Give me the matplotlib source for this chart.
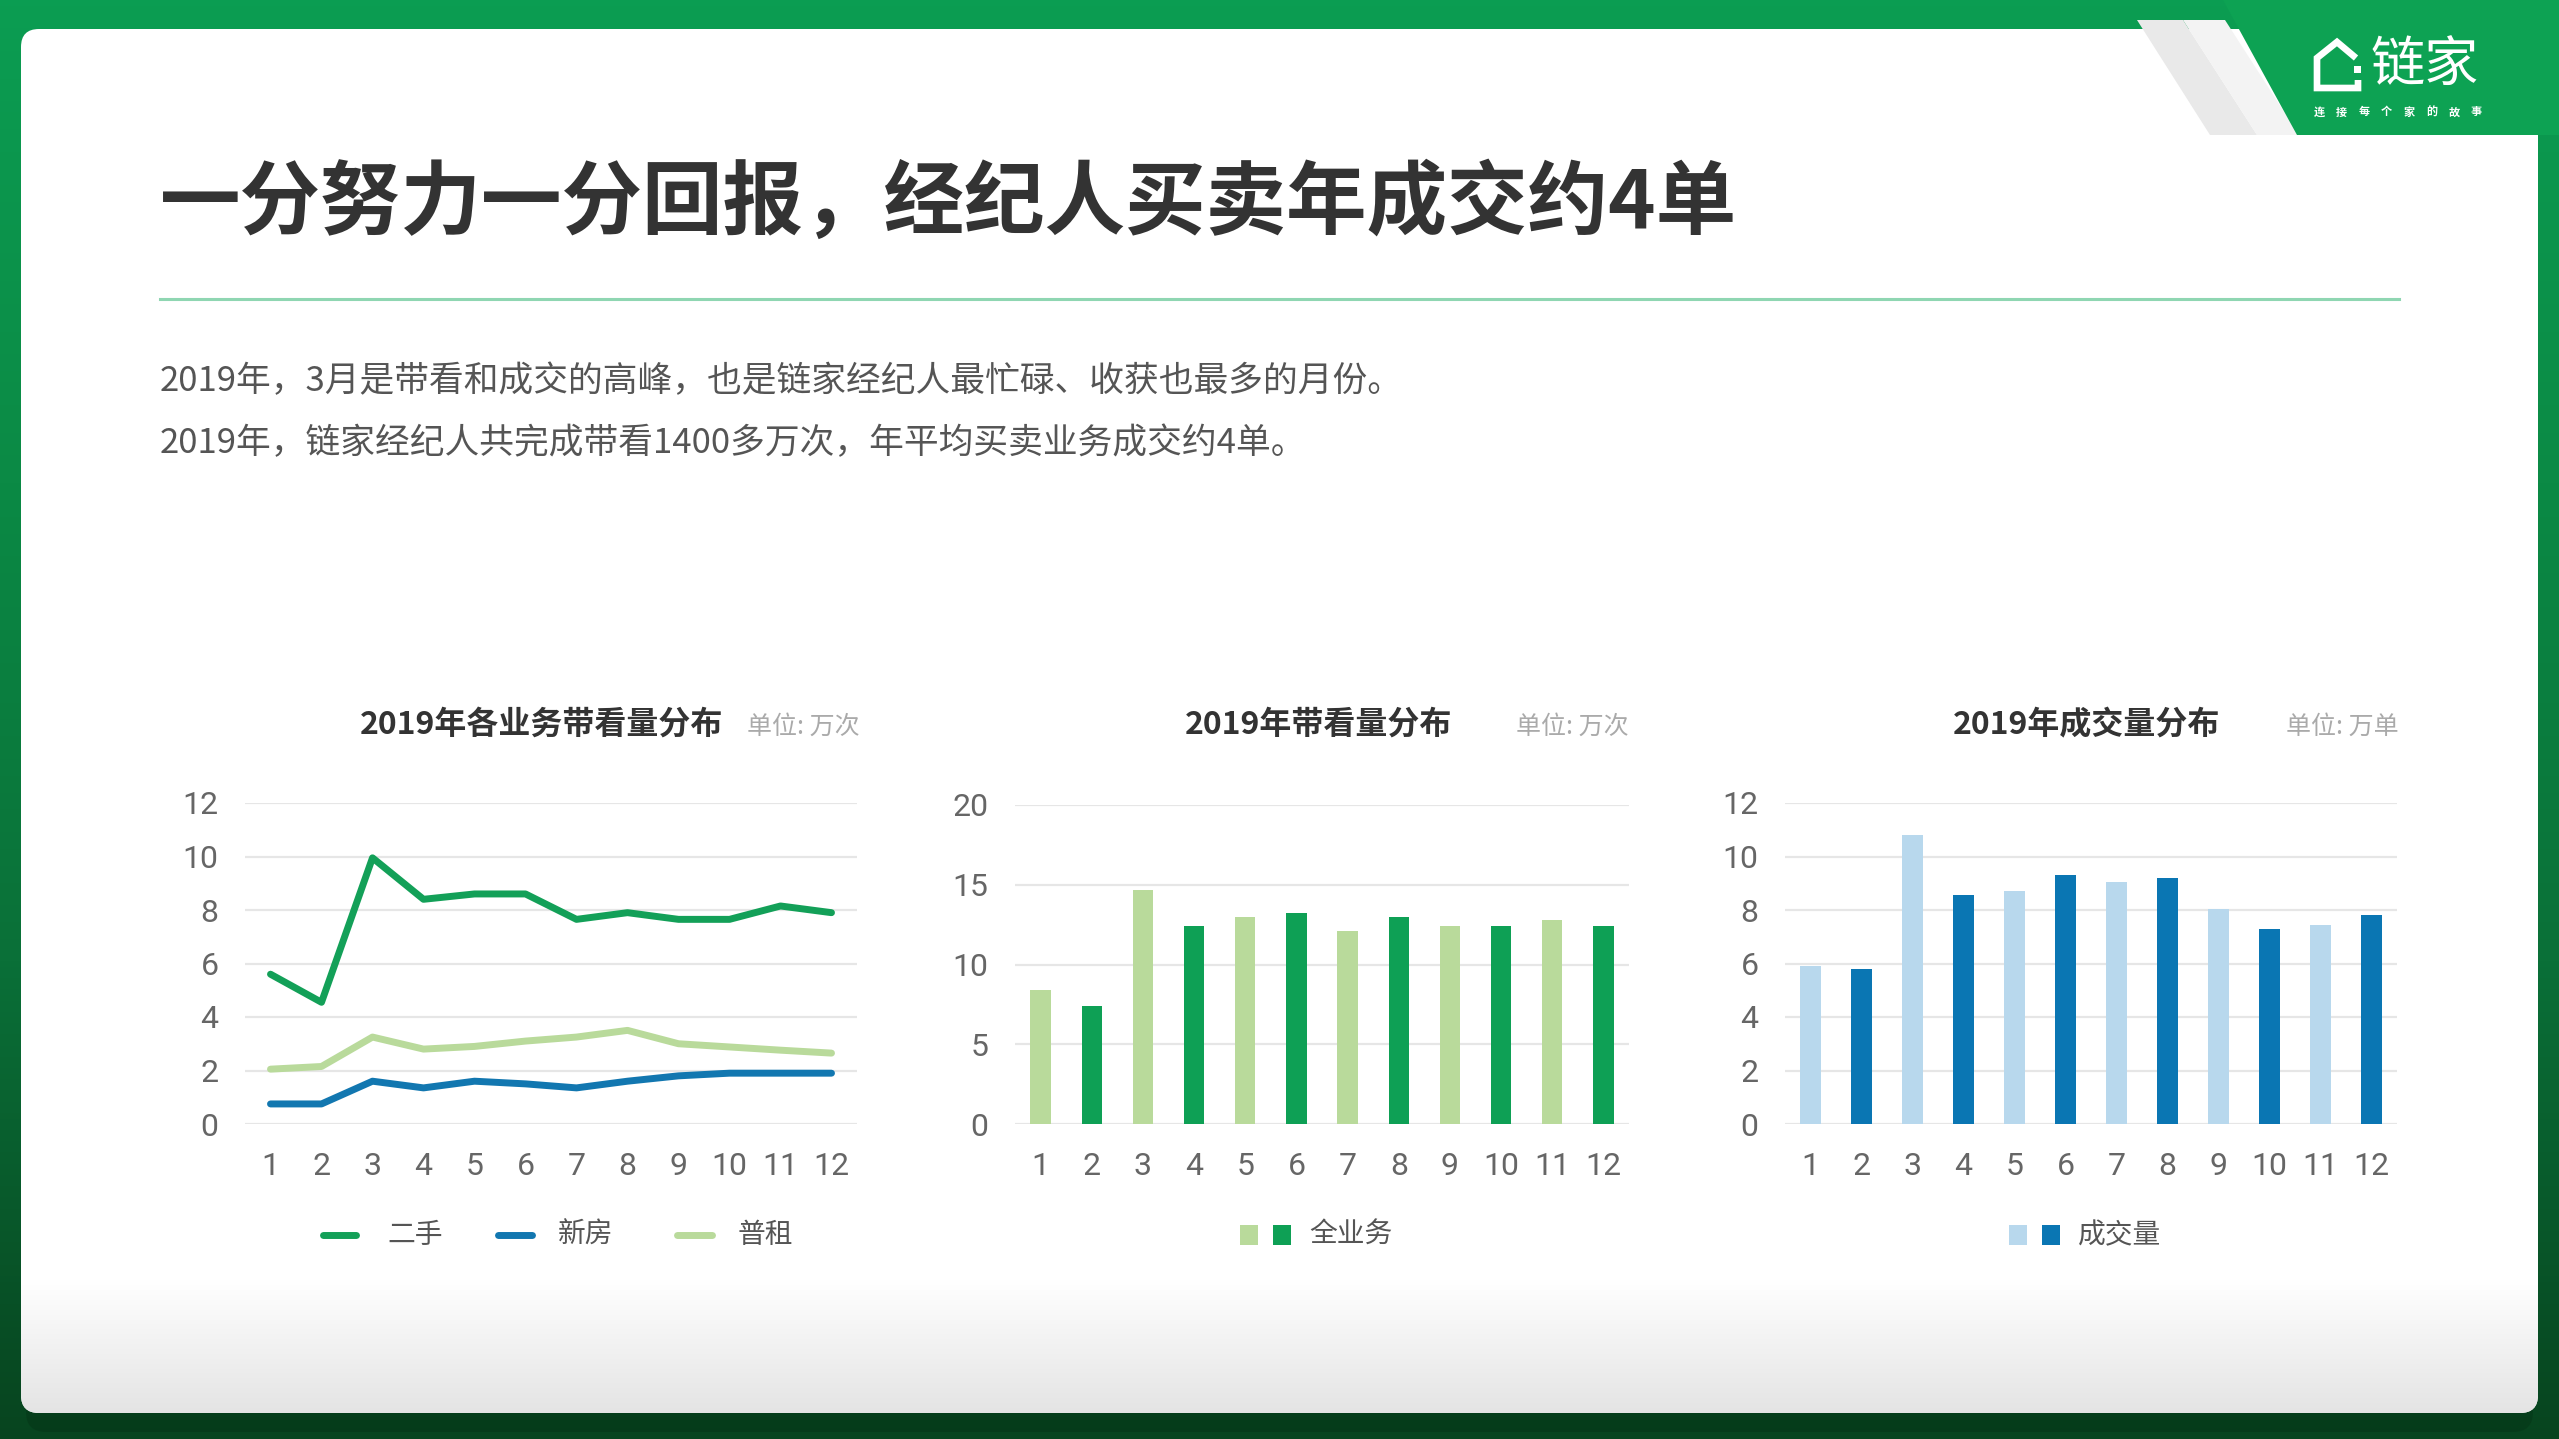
import numpy as np
import matplotlib
matplotlib.use('Agg')
import matplotlib.pyplot as plt
from matplotlib.patches import FancyBboxPatch, Polygon, Rectangle
from matplotlib.colors import LinearSegmentedColormap

plt.rcParams['font.family'] = ['Noto Sans CJK SC', 'DejaVu Sans']

# ---------------- data ----------------
months = list(range(1, 13))
month_labels = [str(m) for m in months]
ershou = [5.6, 4.55, 9.95, 8.4, 8.6, 8.6, 7.65, 7.9, 7.65, 7.65, 8.15, 7.9]
xinfang = [0.75, 0.75, 1.6, 1.35, 1.6, 1.5, 1.35, 1.6, 1.8, 1.9, 1.9, 1.9]
puzu = [2.05, 2.15, 3.25, 2.8, 2.9, 3.1, 3.25, 3.5, 3.0, 2.88, 2.76, 2.65]
daikan = [8.4, 7.4, 14.7, 12.4, 13.0, 13.2, 12.1, 13.0, 12.4, 12.4, 12.8, 12.4]
chengjiao = [5.9, 5.8, 10.8, 8.55, 8.7, 9.3, 9.05, 9.2, 8.05, 7.3, 7.45, 7.8]

line_names = ['二手', '新房', '普租']
yticks1 = [0, 2, 4, 6, 8, 10, 12]
yticks2 = [0, 5, 10, 15, 20]
yticks3 = [0, 2, 4, 6, 8, 10, 12]

title = '一分努力一分回报，经纪人买卖年成交约4单'
sub1 = '2019年，3月是带看和成交的高峰，也是链家经纪人最忙碌、收获也最多的月份。'
sub2 = '2019年，链家经纪人共完成带看1400多万次，年平均买卖业务成交约4单。'
chart_titles = ['2019年各业务带看量分布', '2019年带看量分布', '2019年成交量分布']
units = ['单位: 万次', '单位: 万次', '单位: 万单']
legend2 = '全业务'
legend3 = '成交量'

# colors
C_ERSHOU = '#13a058'
C_XINFANG = '#1277b0'
C_PUZU = '#b9da9b'
C_LG = '#b9da9b'
C_DG = '#0ea055'
C_LB = '#b8d8ed'
C_DB = '#0a76b3'
TICK_C = '#666666'

W, H = 2559, 1439
fig = plt.figure(figsize=(W / 100, H / 100), dpi=100)

bg = fig.add_axes([0, 0, 1, 1])
bg.set_xlim(0, W)
bg.set_ylim(H, 0)
bg.axis('off')

# green gradient background
gcmap = LinearSegmentedColormap.from_list('g', ['#0b9d52', '#0b8a45', '#0a7038', '#07441f'])
grad = np.linspace(0, 1, 256).reshape(-1, 1)
bg.imshow(grad, extent=[0, W, H, 0], aspect='auto', cmap=gcmap, zorder=0)

# shadow below card
shadow = FancyBboxPatch((26, 40), 2507, 1392, boxstyle='round,pad=0,rounding_size=20',
                        fc='#032d12', ec='none', alpha=0.35, zorder=1)
bg.add_patch(shadow)

# white card
card = FancyBboxPatch((21, 29), 2517, 1384, boxstyle='round,pad=0,rounding_size=18',
                      fc='white', ec='none', zorder=2)
bg.add_patch(card)
# bottom grey fade in card
fade = LinearSegmentedColormap.from_list('f', ['#ffffff', '#e4e4e4'])
im = bg.imshow(np.linspace(0, 1, 256).reshape(-1, 1), extent=[21, 2538, 1413, 1280],
               aspect='auto', cmap=fade, zorder=3, origin='upper')
im.set_clip_path(card)

# top-right green tab with fold stripes
bg.add_patch(Polygon([(2137, 20), (2183, 20), (2257, 135), (2210, 135)], closed=True,
                     fc='#e9e9e9', ec='none', zorder=4))
bg.add_patch(Polygon([(2183, 20), (2225, 20), (2299, 135), (2257, 135)], closed=True,
                     fc='#f3f3f3', ec='none', zorder=4))
bg.add_patch(Polygon([(2223, 0), (W, 0), (W, 135), (2297, 135)], closed=True,
                     fc='#0da253', ec='none', zorder=4))
bg.add_patch(FancyBboxPatch((2250, 135), 288, 60, boxstyle='round,pad=0,rounding_size=18',
                            fc='white', ec='none', zorder=4))

# logo
bg.plot([2356, 2337, 2317, 2317, 2358, 2358], [58, 42, 58, 88, 88, 80], color='white',
        lw=4.8, solid_joinstyle='miter', solid_capstyle='butt', zorder=5)
bg.add_patch(Rectangle((2354, 66), 7, 7, fc='white', ec='none', zorder=5))
bg.text(2371, 66, '链家', fontsize=39, color='white', va='center', ha='left', zorder=5)
slogan = '连接每个家的故事'
for i, ch in enumerate(slogan):
    bg.text(2319 + i * 22.5, 112, ch, fontsize=8, color='white', weight='bold',
            va='center', ha='center', zorder=5)

# title and text
bg.text(160, 204, title, fontsize=58, weight='heavy', color='#333333', va='center',
        ha='left', zorder=5)
bg.plot([160, 2399], [299, 299], color='#8fd6b2', lw=2.2, zorder=5)
bg.text(160, 382, sub1, fontsize=25, weight='medium', color='#555555', va='center', ha='left', zorder=5)
bg.text(160, 444, sub2, fontsize=25, weight='medium', color='#555555', va='center', ha='left', zorder=5)


def make_ax(x0, x1, ytop, ybot):
    ax = fig.add_axes([x0 / W, 1 - ybot / H, (x1 - x0) / W, (ybot - ytop) / H])
    ax.set_facecolor('none')
    for s in ax.spines.values():
        s.set_visible(False)
    ax.set_xlim(0.5, 12.5)
    ax.set_xticks(months, labels=month_labels)
    ax.tick_params(axis='both', length=0, labelsize=23, labelcolor=TICK_C)
    ax.tick_params(axis='x', pad=20)
    ax.tick_params(axis='y', pad=19)
    ax.grid(axis='y', color='#e6e6e6', lw=1.6, zorder=0)
    ax.set_axisbelow(True)
    return ax


# chart 1: lines
ax1 = make_ax(245, 857, 803, 1124)
ax1.set_ylim(0, 12)
ax1.set_yticks(yticks1)
for vals, c in zip([ershou, xinfang, puzu], [C_ERSHOU, C_XINFANG, C_PUZU]):
    ax1.plot(months, vals, color=c, lw=5, solid_joinstyle='round', solid_capstyle='round', zorder=3)

# chart 2: bars
ax2 = make_ax(1015, 1629, 805, 1124)
ax2.set_ylim(0, 20)
ax2.set_yticks(yticks2)
ax2.bar(months, daikan, width=0.4, color=[C_LG, C_DG] * 6, zorder=3)

# chart 3: bars
ax3 = make_ax(1785, 2397, 803, 1124)
ax3.set_ylim(0, 12)
ax3.set_yticks(yticks3)
ax3.bar(months, chengjiao, width=0.4, color=[C_LB, C_DB] * 6, zorder=3)

for ax in (ax1, ax2, ax3):
    for lab in ax.get_xticklabels() + ax.get_yticklabels():
        lab.set_fontfamily(['Roboto', 'DejaVu Sans'])
        lab.set_fontweight('normal')

# chart titles and units
for cx, t in zip([542, 1319, 2087], chart_titles):
    bg.text(cx, 725, t, fontsize=23, weight='bold', color='#333333', ha='center', va='center', zorder=5)
for rx, u in zip([860, 1629, 2399], units):
    bg.text(rx, 727, u, fontsize=18, color='#aaaaaa', ha='right', va='center', zorder=5)

# legends
ly = 1235
for (lx0, lx1, tx), name, c in zip([(323, 356, 387), (498, 532, 558), (677, 712, 738)],
                                   line_names, [C_ERSHOU, C_XINFANG, C_PUZU]):
    bg.plot([lx0, lx1], [ly, ly], color=c, lw=5, solid_capstyle='round', zorder=5)
    bg.text(tx, ly, name, fontsize=20, color='#555555', ha='left', va='center', zorder=5)

for (sx, c) in [(1240, C_LG), (1273, C_DG)]:
    bg.add_patch(Rectangle((sx, ly - 10), 18, 20, fc=c, ec='none', zorder=5))
bg.text(1309, ly, legend2, fontsize=20, color='#555555', ha='left', va='center', zorder=5)
for (sx, c) in [(2009, C_LB), (2042, C_DB)]:
    bg.add_patch(Rectangle((sx, ly - 10), 18, 20, fc=c, ec='none', zorder=5))
bg.text(2078, ly, legend3, fontsize=20, color='#555555', ha='left', va='center', zorder=5)

fig.savefig('out.png', dpi=100)
